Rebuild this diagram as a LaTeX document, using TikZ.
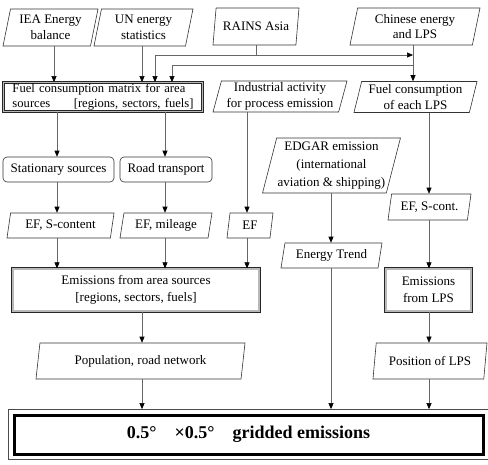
\documentclass[tikz,border=0pt]{standalone}
\usepackage{fontspec}
\setmainfont{Liberation Serif}
\usetikzlibrary{shapes.geometric,arrows.meta,fit}
\begin{document}
\begin{tikzpicture}[x=1pt,y=-1pt,
  font=\fontsize{13}{15.5}\selectfont,
  every node/.style={inner sep=1pt, text=black},
  frame/.style={draw=black!80, line width=0.6pt},
  para/.style={frame, trapezium, trapezium left angle=74, trapezium right angle=106,
    trapezium stretches body, align=center},
  rbox/.style={frame, rounded corners=4pt, align=center},
  dbox/.style={draw=black!85, line width=0.8pt, double=black!28, double distance=1.6pt, align=center},
  link/.style={draw=black!60, line width=0.6pt},
  arr/.style={link, -{Triangle[length=6pt,width=5pt,color=black]}}
]
\useasboundingbox (0,0) rectangle (488,464);

% column and row guides for the connectors
\coordinate (kIEA) at (54,0);
\coordinate (kUN)  at (142,0);
\coordinate (kL1)  at (155,0);
\coordinate (kL2)  at (172,0);
\coordinate (kR)   at (256,0);
\coordinate (kCN)  at (413,0);
\coordinate (kS)   at (57,0);
\coordinate (kT)   at (165,0);
\coordinate (kI)   at (247,0);
\coordinate (kE)   at (331,0);
\coordinate (kP)   at (429,0);
\coordinate (rowA) at (0,55);
\coordinate (rowB) at (0,65);

% data sources
\node[para, minimum width=95,  minimum height=37] (iea)   at (50.5,27.5) {IEA Energy\\balance};
\node[para, minimum width=99,  minimum height=37] (un)    at (143.5,27.5) {UN energy\\statistics};
\node[para, minimum width=86,  minimum height=37] (rains) at (256,26.5) {RAINS Asia};
\node[para, minimum width=130, minimum height=37] (cn)    at (415,26.5) {Chinese energy\\and LPS};

% fuel consumption level
\node[dbox, minimum width=199, minimum height=29, text width=181, align=left,
  font=\fontsize{12.6}{15}\selectfont] (fmat) at (103,97)
  {Fuel consumption matrix for area\\sources\hfill[regions, sectors, fuels]};
\node[para, minimum width=134, minimum height=31] (ind)  at (280,96.5) {Industrial activity\\for process emission};
\node[para, minimum width=123, minimum height=31] (flps) at (415.5,97) {Fuel consumption\\of each LPS};

% source split
\node[rbox, minimum width=111, minimum height=25] (stat) at (58.5,169.5) {Stationary sources};
\node[rbox, minimum width=92,  minimum height=25] (road) at (166,169.5) {Road transport};

% emission factors
\node[para, minimum width=107, minimum height=25] (efs)  at (60.5,225.5) {EF, S-content};
\node[para, minimum width=92,  minimum height=25] (efm)  at (166,225.5) {EF, mileage};
\node[para, minimum width=46,  minimum height=25] (ef)   at (250,225.5) {EF};
\node[para, minimum width=83,  minimum height=26] (efsc) at (429.5,207) {EF, S-cont.};

% EDGAR branch
\node[para, minimum width=129, minimum height=55, font=\fontsize{13}{18}\selectfont] (edgar) at (331.5,165.5)
  {EDGAR emission\\(international\\aviation \& shipping)};
\node[para, minimum width=101, minimum height=25] (trend) at (331.5,255.5) {Energy Trend};

% emissions
\node[dbox, minimum width=246.5, minimum height=42.5, font=\fontsize{13}{17}\selectfont] (earea) at (136,290)
  {Emissions from area sources\\{}[regions, sectors, fuels]};
\node[dbox, minimum width=85.5, minimum height=42.5, font=\fontsize{13}{17}\selectfont] (elps) at (428.5,290)
  {Emissions\\from LPS};

% spatial proxies
\node[para, minimum width=209, minimum height=36] (pop) at (140.5,361) {Population, road network};
\node[para, minimum width=114, minimum height=36] (pos) at (430,361) {Position of LPS};

% gridded result
\node[draw=black, line width=3pt, minimum width=469, minimum height=39,
  font=\fontsize{18}{20}\selectfont\bfseries] (grid) at (248.5,434.5)
  {0.5°\quad ×0.5°\quad gridded emissions};
\node[draw=black!70, line width=0.8pt, fit=(grid), inner sep=4pt] (gridout) {};

% connectors
\draw[arr] (iea.south -| kIEA) -- (fmat.north -| kIEA);
\draw[arr] (un.south -| kUN) -- (fmat.north -| kUN);
\draw[arr] (rains.south -| kR) |- (rowA -| kL1) -- (fmat.north -| kL1);
\draw[arr] (rowA -| kR) -- (rowA -| kCN);
\draw[arr] (cn.south -| kCN) -- (flps.north -| kCN);
\draw[arr] (rowB -| kCN) -| (fmat.north -| kL2);

\draw[arr] (fmat.south -| kS) -- (stat.north -| kS);
\draw[arr] (fmat.south -| kT) -- (road.north -| kT);
\draw[arr] (stat.south -| kS) -- (efs.north -| kS);
\draw[arr] (road.south -| kT) -- (efm.north -| kT);
\draw[arr] (efs.south -| kS) -- (earea.north -| kS);
\draw[arr] (efm.south -| kT) -- (earea.north -| kT);
\draw[arr] (ind.south -| kI) -- (ef.north -| kI);
\draw[arr] (ef.south -| kI) -- (earea.north -| kI);

\draw[arr] (flps.south -| kP) -- (efsc.north -| kP);
\draw[arr] (efsc.south -| kP) -- (elps.north -| kP);
\draw[arr] (elps.south -| kP) -- (pos.north -| kP);
\draw[arr] (pos.south -| kP) -- (gridout.north -| kP);

\draw[arr] (edgar.south -| kE) -- (trend.north -| kE);
\draw[arr] (trend.south -| kE) -- (gridout.north -| kE);

\draw[arr] (earea.south -| kUN) -- (pop.north -| kUN);
\draw[arr] (pop.south -| kUN) -- (gridout.north -| kUN);
\end{tikzpicture}
\end{document}
